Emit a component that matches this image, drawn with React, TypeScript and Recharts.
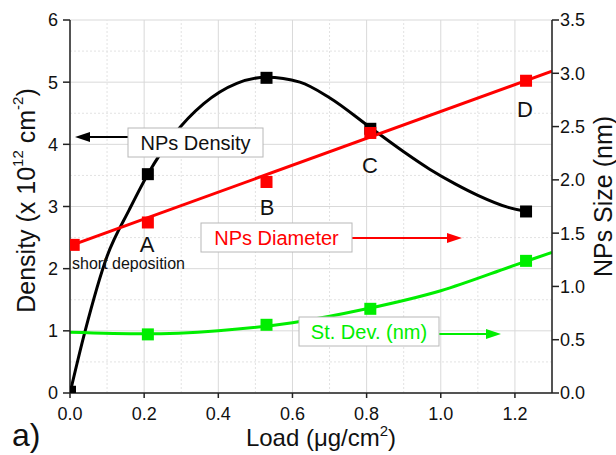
import {
  ComposedChart,
  Line,
  Scatter,
  XAxis,
  YAxis,
  CartesianGrid,
  ReferenceLine,
  Label,
} from "recharts";

const FONT = "'Liberation Sans', Arial, Helvetica, sans-serif";

// measured points (load in ug/cm2)
const densityLoad = [0, 0.21, 0.53, 0.81, 1.23];
const densityVal = [0.02, 3.52, 5.07, 4.25, 2.92]; // x 10^12 cm^-2, left axis
const diameterLoad = [0.01, 0.21, 0.53, 0.81, 1.23];
const diameterVal = [1.39, 1.6, 1.98, 2.44, 2.93]; // nm, right axis
const stdevLoad = [0.21, 0.53, 0.81, 1.23];
const stdevVal = [0.55, 0.64, 0.79, 1.24]; // nm, right axis

// fitted curves
const densityFitLoad = [0, 0.04, 0.1, 0.16, 0.21, 0.28, 0.36, 0.45, 0.53, 0.62, 0.7, 0.81, 0.9, 0.97, 1.04, 1.1, 1.18, 1.23];
const densityFitVal = [0, 0.98, 2.2, 2.95, 3.52, 4.15, 4.65, 4.98, 5.08, 5.0, 4.75, 4.27, 3.88, 3.6, 3.36, 3.18, 2.99, 2.92];
const diameterFitLoad = [0, 1.3];
const diameterFitVal = [1.38, 3.02];
const stdevFitLoad = [0, 0.2, 0.4, 0.6, 0.8, 1.0, 1.2, 1.3];
const stdevFitVal = [0.57, 0.555, 0.585, 0.66, 0.79, 0.96, 1.2, 1.32];

const xTicks = [0, 0.2, 0.4, 0.6, 0.8, 1.0, 1.2];
const xMinor = [0.1, 0.3, 0.5, 0.7, 0.9, 1.1];
const leftTicks = [0, 1, 2, 3, 4, 5, 6];
const leftMinor = [0.5, 1.5, 2.5, 3.5, 4.5, 5.5];
const rightTicks = [0, 0.5, 1, 1.5, 2, 2.5, 3, 3.5];
const rightMinor = [0.25, 0.75, 1.25, 1.75, 2.25, 2.75, 3.25];

const rows = (xs: number[], ys: number[]) => xs.map((x, i) => ({ x, y: ys[i] }));

const BLACK = "#000000";
const RED = "#ff0000";
const GREEN = "#00ee00";

function Square(props: any) {
  const { cx, cy, fill } = props;
  if (cx == null || cy == null) return null;
  return <rect x={cx - 6} y={cy - 6} width={12} height={12} fill={fill} />;
}

const tickStyle = { fontSize: 18, fill: "#111", fontFamily: FONT };

function LeftTitle(props: any) {
  const vb = props.viewBox || { x: 0, y: 20, width: 70, height: 373 };
  const cx = vb.x + 26;
  const cy = vb.y + vb.height / 2 - 6;
  return (
    <text
      x={cx}
      y={cy}
      transform={`rotate(-90, ${cx}, ${cy})`}
      textAnchor="middle"
      dominantBaseline="central"
      fontSize={25}
      fontFamily={FONT}
      fill="#111"
    >
      Density (x 10
      <tspan dy={-9} fontSize={15}>12</tspan>
      <tspan dy={9}> cm</tspan>
      <tspan dy={-9} fontSize={15}>-2</tspan>
      <tspan dy={9}>)</tspan>
    </text>
  );
}

function RightTitle(props: any) {
  const vb = props.viewBox || { x: 552, y: 20, width: 64, height: 373 };
  const cx = vb.x + 51;
  const cy = vb.y + vb.height / 2 - 10;
  return (
    <text
      x={cx}
      y={cy}
      transform={`rotate(-90, ${cx}, ${cy})`}
      textAnchor="middle"
      dominantBaseline="central"
      fontSize={25}
      fontFamily={FONT}
      fill="#111"
    >
      NPs Size (nm)
    </text>
  );
}

function BottomTitle(props: any) {
  const vb = props.viewBox || { x: 70, y: 393, width: 482, height: 62 };
  const cx = vb.x + vb.width / 2 + 10;
  return (
    <text x={cx} y={446} textAnchor="middle" fontSize={24} fontFamily={FONT} fill="#111">
      Load (μg/cm
      <tspan dy={-10} fontSize={15}>2</tspan>
      <tspan dy={10}>)</tspan>
    </text>
  );
}

function Overlay() {
  const boxStroke = "#b8b8b8";
  return (
    <svg
      width={616}
      height={455}
      style={{ position: "absolute", left: 0, top: 0, pointerEvents: "none" }}
      fontFamily={FONT}
    >
      {/* NPs Density */}
      <line x1={128} y1={137} x2={86} y2={137} stroke={BLACK} strokeWidth={2} />
      <polygon points="75,137 90,132 90,142" fill={BLACK} />
      <rect x={128} y={128} width={135} height={29} fill="#fff" stroke={boxStroke} />
      <text x={195.5} y={149.5} textAnchor="middle" fontSize={20} fill="#111">
        NPs Density
      </text>

      {/* NPs Diameter */}
      <line x1={352} y1={238} x2={450} y2={238} stroke={RED} strokeWidth={2} />
      <polygon points="462,238 447,233 447,243" fill={RED} />
      <rect x={201} y={223} width={151} height={29} fill="#fff" stroke={boxStroke} />
      <text x={276.5} y={244.5} textAnchor="middle" fontSize={20} fill={RED}>
        NPs Diameter
      </text>

      {/* St. Dev. */}
      <line x1={439} y1={334} x2={489} y2={334} stroke={GREEN} strokeWidth={2} />
      <polygon points="501,334 486,329 486,339" fill={GREEN} />
      <rect x={299} y={317} width={140} height={29} fill="#fff" stroke={boxStroke} />
      <text x={369} y={338.5} textAnchor="middle" fontSize={20} fill={GREEN}>
        St. Dev. (nm)
      </text>

      {/* point labels */}
      <text x={147} y={252} textAnchor="middle" fontSize={22} fill="#111">A</text>
      <text x={267} y={215} textAnchor="middle" fontSize={22} fill="#111">B</text>
      <text x={370} y={173} textAnchor="middle" fontSize={22} fill="#111">C</text>
      <text x={525} y={117} textAnchor="middle" fontSize={22} fill="#111">D</text>
      <text x={72} y={269} fontSize={16} fill="#111">short deposition</text>

      <text x={12} y={446} fontSize={32} fill="#111">a)</text>
    </svg>
  );
}

export default function App() {
  return (
    <div style={{ position: "absolute", left: 0, top: 0, width: 616, height: 455, background: "#fff" }}>
      <ComposedChart
        width={616}
        height={455}
        margin={{ top: 20, right: 0, bottom: 0, left: 0 }}
        style={{ fontFamily: FONT }}
      >
        <CartesianGrid xAxisId="main" yAxisId="left" stroke="#d9d9d9" strokeWidth={1} />

        <XAxis
          xAxisId="minor"
          type="number"
          dataKey="x"
          domain={[0, 1.3]}
          ticks={xMinor}
          allowDataOverflow
          mirror
          height={0}
          axisLine={false}
          tick={false}
          tickSize={4}
          stroke="#222"
        />
        <XAxis
          xAxisId="main"
          type="number"
          dataKey="x"
          domain={[0, 1.3]}
          ticks={xTicks}
          allowDataOverflow
          interval={0}
          height={62}
          tickSize={5}
          tickMargin={9}
          tickFormatter={(v: number) => v.toFixed(1)}
          tick={tickStyle}
          stroke="#222"
          strokeWidth={1.5}
        >
          <Label content={<BottomTitle />} />
        </XAxis>
        <XAxis
          xAxisId="top"
          orientation="top"
          type="number"
          dataKey="x"
          domain={[0, 1.3]}
          ticks={xTicks}
          allowDataOverflow
          mirror
          height={0}
          tick={false}
          tickSize={4}
          stroke="#222"
          strokeWidth={1.5}
        />

        <YAxis
          yAxisId="leftMinor"
          type="number"
          domain={[0, 6]}
          ticks={leftMinor}
          mirror
          width={0}
          axisLine={false}
          tick={false}
          tickSize={4}
          stroke="#222"
        />
        <YAxis
          yAxisId="left"
          type="number"
          domain={[0, 6]}
          ticks={leftTicks}
          allowDataOverflow
          interval={0}
          width={70}
          tickSize={7}
          tickMargin={5}
          tick={tickStyle}
          stroke="#222"
          strokeWidth={1.5}
        >
          <Label content={<LeftTitle />} />
        </YAxis>
        <YAxis
          yAxisId="rightMinor"
          orientation="right"
          type="number"
          domain={[0, 3.5]}
          ticks={rightMinor}
          mirror
          width={0}
          axisLine={false}
          tick={false}
          tickSize={4}
          stroke="#222"
        />
        <YAxis
          yAxisId="right"
          orientation="right"
          type="number"
          domain={[0, 3.5]}
          ticks={rightTicks}
          allowDataOverflow
          interval={0}
          width={64}
          tickSize={7}
          tickMargin={1}
          tickFormatter={(v: number) => v.toFixed(1)}
          tick={tickStyle}
          stroke="#222"
          strokeWidth={1.5}
        >
          <Label content={<RightTitle />} />
        </YAxis>

        {xMinor.map((v) => (
          <ReferenceLine key={"vx" + v} x={v} xAxisId="main" yAxisId="left" stroke="#e2e2e2" strokeDasharray="2 2" />
        ))}
        {leftMinor.map((v) => (
          <ReferenceLine key={"hy" + v} y={v} xAxisId="main" yAxisId="left" stroke="#e2e2e2" strokeDasharray="2 2" />
        ))}

        <Line
          data={rows(densityFitLoad, densityFitVal)}
          dataKey="y"
          xAxisId="main"
          yAxisId="left"
          type="monotone"
          stroke={BLACK}
          strokeWidth={3}
          dot={false}
          activeDot={false}
          isAnimationActive={false}
        />
        <Line
          data={rows(stdevFitLoad, stdevFitVal)}
          dataKey="y"
          xAxisId="main"
          yAxisId="right"
          type="monotone"
          stroke={GREEN}
          strokeWidth={3}
          dot={false}
          activeDot={false}
          isAnimationActive={false}
        />
        <Line
          data={rows(diameterFitLoad, diameterFitVal)}
          dataKey="y"
          xAxisId="main"
          yAxisId="right"
          type="linear"
          stroke={RED}
          strokeWidth={3}
          dot={false}
          activeDot={false}
          isAnimationActive={false}
        />

        <Scatter
          data={rows(densityLoad, densityVal)}
          dataKey="y"
          xAxisId="main"
          yAxisId="left"
          fill={BLACK}
          shape={<Square />}
          isAnimationActive={false}
        />
        <Scatter
          data={rows(stdevLoad, stdevVal)}
          dataKey="y"
          xAxisId="main"
          yAxisId="right"
          fill={GREEN}
          shape={<Square />}
          isAnimationActive={false}
        />
        <Scatter
          data={rows(diameterLoad, diameterVal)}
          dataKey="y"
          xAxisId="main"
          yAxisId="right"
          fill={RED}
          shape={<Square />}
          isAnimationActive={false}
        />
      </ComposedChart>
      <Overlay />
    </div>
  );
}
